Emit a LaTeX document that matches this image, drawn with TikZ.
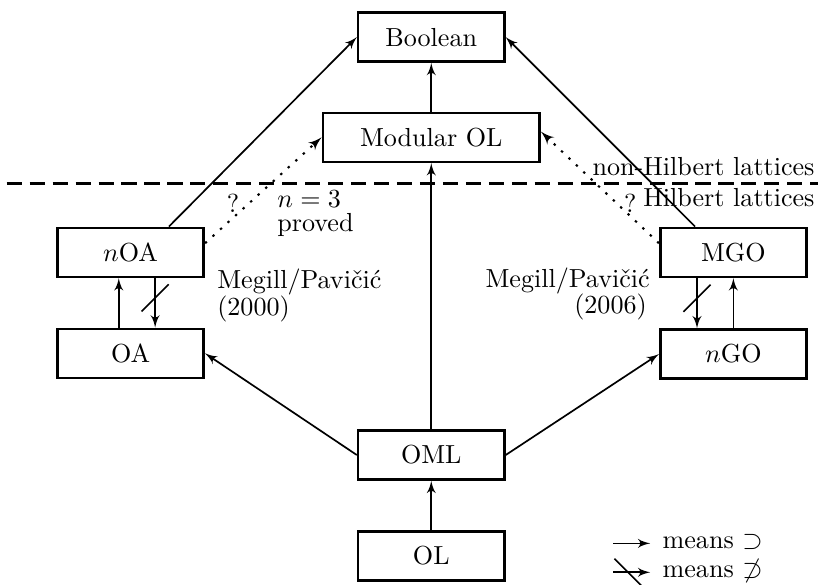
\documentclass[tikz,border=0pt]{standalone}
\usepackage{tikz}
\usetikzlibrary{positioning,arrows,decorations.markings}
\tikzset{
    lattice/.style = {
        draw,
        shape=rectangle,
        minimum height=0.66cm,
        minimum width=1.97cm,
        line width=1pt
    },
    impl/.style = {
        draw,
        ->,
        line width=0.65pt
    },
    notimpl/.style = {
        impl,
        postaction={decorate},
        decoration={markings,
            mark=at position 0.4 with {\draw[-, line width=0.6pt] (-5.2pt,5.2pt) -- (5.2pt,-5.2pt);}}
    },
    openq/.style = {
        draw,
        ->,
        line width=0.8pt,
        dash pattern=on 0.9pt off 3pt
    },
    divider/.style = {
        draw,
        line width=0.9pt,
        dash pattern=on 5.8pt off 3pt
    },
    txt/.style = {
        inner sep=0pt
    },
    >=latex',
}
\begin{document}
\begin{tikzpicture}
            \useasboundingbox (0,0) rectangle (11.02,7.87);

            \node[lattice] (boolean) at (5.81,7.37) {Boolean};
            \node[lattice, minimum width=2.92cm] (modol) at (5.81,6.02) {Modular OL};
            \node[lattice] (noa) at (1.76,4.47) {$n$OA};
            \node[lattice] (oa) at (1.76,3.11) {OA};
            \node[lattice] (mgo) at (9.88,4.47) {MGO};
            \node[lattice] (ngo) at (9.88,3.10) {$n$GO};
            \node[lattice] (oml) at (5.81,1.74) {OML};
            \node[lattice] (ol) at (5.81,0.38) {OL};

            % hilbert / non-hilbert border
            \coordinate (borderl) at (0.09,5.40);
            \coordinate (borderr) at (11.02,5.40);
            \path[divider] (borderl) -- (borderr);
            \node[txt, anchor=base east] (nonhilb) at (10.98,5.51) {non-Hilbert lattices};
            \node[txt, anchor=base east] (hilb) at (10.98,5.09) {Hilbert lattices};

            \path[impl] (ol.north) -- (oml.south);
            \path[impl] (oml.north) -- (modol.south);
            \path[impl] (modol.north) -- (boolean.south);
            \path[impl] (oml.west) -- (oa.east);
            \path[impl] (oml.east) -- (ngo.west);
            \path[impl] (noa.34) -- (boolean.west);
            \path[impl] (mgo.146) -- (boolean.east);

            \path[impl] ([xshift=-0.16cm]oa.north) -- ([xshift=-0.16cm]noa.south);
            \path[notimpl] ([xshift=0.33cm]noa.south) -- ([xshift=0.33cm]oa.north);
            \path[notimpl] ([xshift=-0.49cm]mgo.south) -- ([xshift=-0.49cm]ngo.north);
            \path[impl] (ngo.north) -- (mgo.south);

            \path[openq] (noa.7) -- (modol.west);
            \path[openq] (mgo.173) -- (modol.3);
            \node[txt, anchor=base] (qleft) at (3.14,5.01) {?};
            \node[txt, anchor=base] (qright) at (8.49,5.01) {?};
            \node[txt, anchor=base west] (nthree) at (3.73,5.08) {$n=3$};
            \node[txt, anchor=base west] (proved) at (3.73,4.75) {proved};

            \node[txt, anchor=base west] (mpa) at (2.92,3.99) {Megill/Pavi\v{c}i\'{c}};
            \node[txt, anchor=base west] (mpayear) at (2.92,3.62) {(2000)};
            \node[txt, anchor=base east] (mpb) at (8.76,4.00) {Megill/Pavi\v{c}i\'{c}};
            \node[txt, anchor=base east] (mpbyear) at (8.72,3.65) {(2006)};

            % legend
            \coordinate (keya) at (8.26,0.55);
            \coordinate (keyb) at (8.76,0.55);
            \coordinate (keyc) at (8.26,0.16);
            \coordinate (keyd) at (8.76,0.16);
            \path[impl] (keya) -- (keyb);
            \path[notimpl] (keyc) -- (keyd);
            \node[txt, anchor=base west] (means) at (8.92,0.485) {means $\supset$};
            \node[txt, anchor=base west] (meansnot) at (8.92,0.094) {means $\not\supset$};

        \end{tikzpicture}
\end{document}
